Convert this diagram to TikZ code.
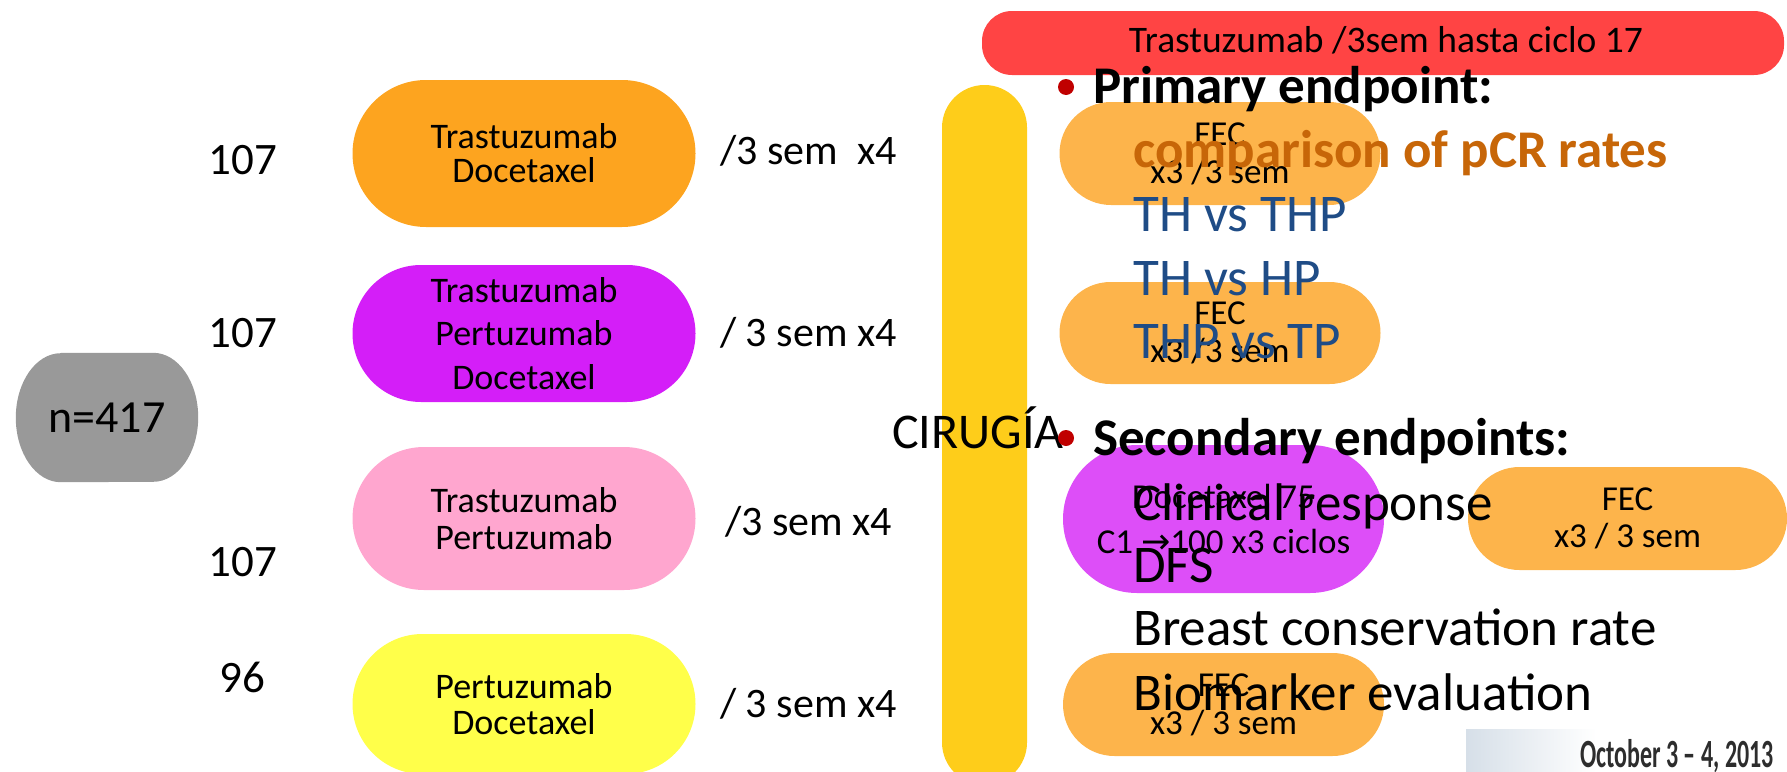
\documentclass[tikz,border=0pt]{standalone}
\usepackage{fontspec}
\usepackage{graphicx}
\setmainfont{Carlito}
\newfontfamily\symfont{DejaVu Sans}
\usetikzlibrary{shapes.misc}

\definecolor{armA}{RGB}{253,164,31}
\definecolor{armB}{RGB}{212,30,248}
\definecolor{armC}{RGB}{255,166,207}
\definecolor{armD}{RGB}{255,255,74}
\definecolor{totalgrey}{RGB}{153,153,153}
\definecolor{surgery}{RGB}{254,205,26}
\definecolor{fec}{RGB}{253,180,75}
\definecolor{doceplus}{RGB}{221,78,248}
\definecolor{herbar}{RGB}{255,68,68}
\definecolor{bulletred}{RGB}{192,0,0}
\definecolor{pcr}{RGB}{199,102,8}
\definecolor{armblue}{RGB}{31,76,134}
\definecolor{datebg}{RGB}{214,223,232}
\definecolor{datetext}{RGB}{45,45,45}

\tikzset{
  pill/.style={rounded rectangle, inner sep=0pt, align=center, text=black},
  armbox/.style={pill, minimum width=343pt},
  fecbox/.style={pill, fill=fec, minimum width=321pt, font=\fontsize{35}{38}\selectfont},
  armcount/.style={anchor=base, inner sep=0pt, font=\fontsize{45}{45}\selectfont},
  schedule/.style={anchor=base west, inner sep=0pt, font=\fontsize{42}{42}\selectfont},
  heading/.style={anchor=base west, inner sep=0pt, font=\fontsize{53}{53}\selectfont\bfseries},
  subitem/.style={anchor=base west, inner sep=0pt, font=\fontsize{53}{53}\selectfont},
  dot/.style={circle, fill=bulletred, inner sep=0pt, minimum size=16pt}
}

\begin{document}
\begin{tikzpicture}[x=1pt, y=-1pt]
\path[use as bounding box] (0,0) rectangle (1787,771);

% total population
\node[minimum width=182pt, minimum height=129pt, inner sep=0pt] (total) at (107,417.5) {};
\fill[totalgrey] ([xshift=45pt]total.north west) -- ([xshift=-45pt]total.north east)
  arc[start angle=90, end angle=-90, x radius=45pt, y radius=64.5pt]
  -- ([xshift=45pt]total.south west)
  arc[start angle=270, end angle=90, x radius=45pt, y radius=64.5pt] -- cycle;
\node[inner sep=0pt, font=\fontsize{46}{46}\selectfont] (totaltext) at (total.center) {n=417};

% arm sizes
\node[armcount] (nA) at (243,174.5) {107};
\node[armcount] (nB) at (243,347.5) {107};
\node[armcount] (nC) at (243,576) {107};
\node[armcount] (nD) at (242,692) {96};

% neoadjuvant arms
\node[armbox, fill=armA, minimum height=147pt, font=\fontsize{36}{34}\selectfont] (armA) at (524,153.5) {Trastuzumab\\Docetaxel};
\node[armbox, fill=armB, minimum height=137pt, font=\fontsize{36}{43.5}\selectfont] (armB) at (524,333.5) {Trastuzumab\\Pertuzumab\\Docetaxel};
\node[armbox, fill=armC, minimum height=143pt, font=\fontsize{36}{37}\selectfont] (armC) at (524,518.5) {Trastuzumab\\Pertuzumab};
\node[armbox, fill=armD, minimum height=140pt, font=\fontsize{36}{36}\selectfont] (armD) at (524,704) {Pertuzumab\\Docetaxel};

% schedules
\node[schedule] (sA) at (720,164) {/3 sem~~x4};
\node[schedule] (sB) at (720,346) {/ 3 sem x4};
\node[schedule] (sC) at (725,535) {/3 sem x4};
\node[schedule] (sD) at (720,717) {/ 3 sem x4};

% trastuzumab maintenance
\node[rectangle, rounded corners=30pt, fill=herbar, minimum width=802pt, minimum height=64pt, inner sep=0pt] (herceptin) at (1383,43) {};
\node[anchor=base, inner sep=0pt, font=\fontsize{37.5}{37.5}\selectfont] (herctext) at (1386,52) {Trastuzumab /3sem hasta ciclo 17};

% surgery
\node[rounded rectangle, fill=surgery, minimum width=700pt, minimum height=85pt, inner sep=0pt, rotate=90] (surg) at (984.5,435) {};

% adjuvant chemotherapy
\node[fecbox, minimum height=103pt] (fecA) at (1220,153.5) {FEC\\x3 /3 sem};
\node[fecbox, minimum height=102pt] (fecB) at (1220,333) {FEC\\x3 /3 sem};
\node[pill, fill=doceplus, minimum width=321pt, minimum height=148pt, font=\fontsize{35}{45}\selectfont] (doce) at (1223.5,519) {Docetaxel 75\\C1 {\symfont →}100 x3 ciclos};
\node[pill, fill=fec, minimum width=319pt, minimum height=103pt, font=\fontsize{35}{37}\selectfont] (fecC) at (1627.5,518.5) {FEC\\x3 / 3 sem};
\node[fecbox, minimum height=103pt] (fecD) at (1223.5,704.5) {FEC\\x3 / 3 sem};

\node[anchor=base west, inner sep=0pt, font=\fontsize{50}{50}\selectfont] (surgtext) at (892,448) {CIRUGÍA};

% endpoints
\node[dot] (b1) at (1066,87) {};
\node[heading] (prim) at (1093,103) {Primary endpoint:};
\node[subitem, font=\fontsize{53}{53}\selectfont\bfseries, text=pcr] (pcr) at (1133,167) {comparison of pCR rates};
\node[subitem, text=armblue] (cmp1) at (1133,231) {TH vs THP};
\node[subitem, text=armblue] (cmp2) at (1133,295) {TH vs HP};
\node[subitem, text=armblue] (cmp3) at (1133,358) {THP vs TP};
\node[dot] (b2) at (1066,438) {};
\node[heading] (sec) at (1093,455) {Secondary endpoints:};
\node[subitem] (sec1) at (1133,520) {Clinical response};
\node[subitem] (sec2) at (1133,582) {DFS};
\node[subitem] (sec3) at (1133,645) {Breast conservation rate};
\node[subitem] (sec4) at (1133,710) {Biomarker evaluation};

% meeting date strip
\node[rectangle, inner sep=0pt, minimum width=130pt, minimum height=42pt, left color=datebg, right color=white] (datestrip) at (1531,750) {};
\node[anchor=base east, inner sep=0pt, text=datetext, font=\fontsize{40}{40}\selectfont\bfseries] (datetxt) at (1774,767) {\scalebox{0.6}[1]{October 3 – 4, 2013}};
\end{tikzpicture}
\end{document}
